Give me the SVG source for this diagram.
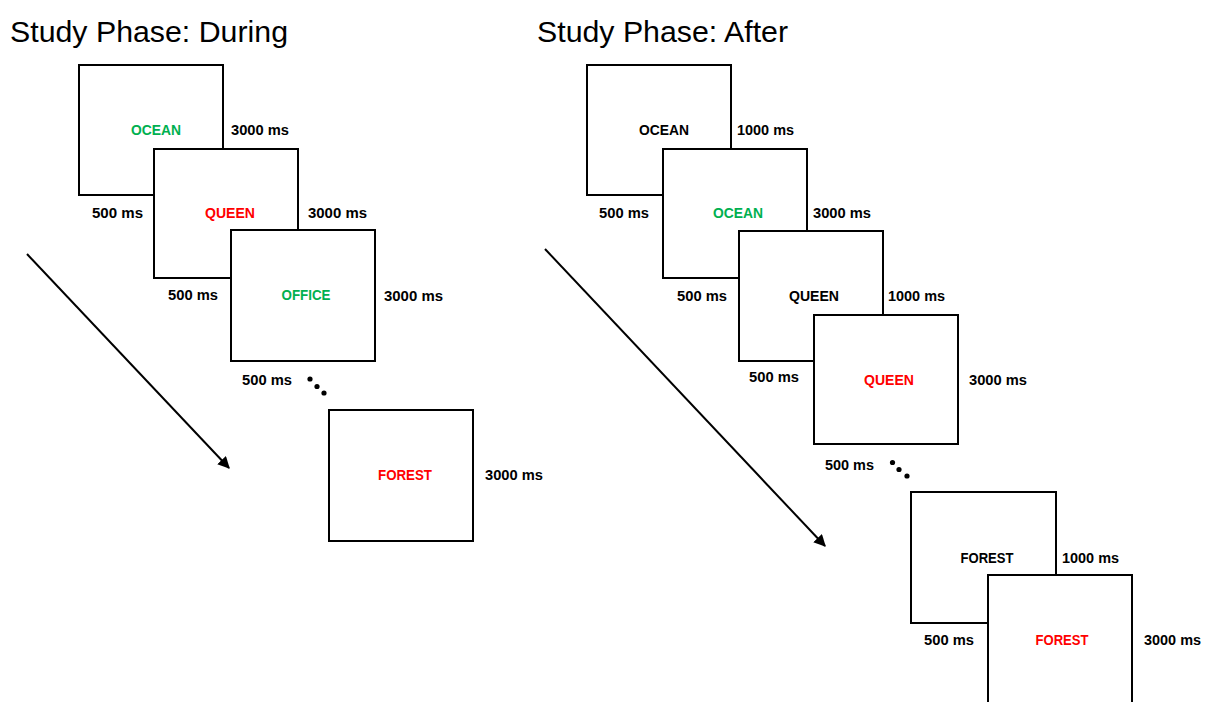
<svg xmlns="http://www.w3.org/2000/svg" width="1205" height="702" viewBox="0 0 1205 702">
<style>
.box{fill:#fff;stroke:#000;stroke-width:2}
.t{font-family:"Liberation Sans",Arial,sans-serif;font-size:15px;font-weight:bold;fill:#000}
.w{font-family:"Liberation Sans",Arial,sans-serif;font-size:15px;font-weight:bold;text-anchor:middle}
.g{fill:#00B050}
.r{fill:#FF0000}
.k{fill:#000}
.title{font-family:"Liberation Sans",Arial,sans-serif;font-size:29px;fill:#000}
.arr{stroke:#000;stroke-width:2;fill:none}
</style>
<defs>
<marker id="ah" viewBox="0 0 10 10" refX="9" refY="5" markerWidth="6" markerHeight="6" orient="auto" markerUnits="strokeWidth">
<path d="M0,0 L10,5 L0,10 z" fill="#000"/>
</marker>
</defs>

<text class="title" x="10" y="42" textLength="278" lengthAdjust="spacingAndGlyphs">Study Phase: During</text>
<text class="title" x="537" y="42" textLength="251" lengthAdjust="spacingAndGlyphs">Study Phase: After</text>

<g id="connectors">
<line class="arr" x1="27" y1="254" x2="229" y2="468" marker-end="url(#ah)"/>
<line class="arr" x1="545" y1="249" x2="825" y2="546" marker-end="url(#ah)"/>
</g>

<!-- Left panel -->
<g id="d-ocean">
<rect class="box" x="79" y="65" width="144" height="130"/>
<text class="w g" x="156" y="135" textLength="50" lengthAdjust="spacingAndGlyphs">OCEAN</text>
<text class="t" x="231" y="135" textLength="58" lengthAdjust="spacingAndGlyphs">3000 ms</text>
<text class="t" x="92" y="218" textLength="51" lengthAdjust="spacingAndGlyphs">500 ms</text>
</g>
<g id="d-queen">
<rect class="box" x="154" y="149" width="144" height="129"/>
<text class="w r" x="230" y="218" textLength="50" lengthAdjust="spacingAndGlyphs">QUEEN</text>
<text class="t" x="308" y="218" textLength="59" lengthAdjust="spacingAndGlyphs">3000 ms</text>
<text class="t" x="168" y="300" textLength="50" lengthAdjust="spacingAndGlyphs">500 ms</text>
</g>
<g id="d-office">
<rect class="box" x="231" y="230" width="144" height="131"/>
<text class="w g" x="306" y="300" textLength="49" lengthAdjust="spacingAndGlyphs">OFFICE</text>
<text class="t" x="384" y="301" textLength="59" lengthAdjust="spacingAndGlyphs">3000 ms</text>
<text class="t" x="242" y="385" textLength="50" lengthAdjust="spacingAndGlyphs">500 ms</text>
</g>
<g id="d-dots">
<circle cx="310" cy="379" r="2.6"/>
<circle cx="317" cy="386.5" r="2.6"/>
<circle cx="324" cy="393" r="2.6"/>
</g>
<g id="d-forest">
<rect class="box" x="329" y="410" width="144" height="131"/>
<text class="w r" x="405" y="480" textLength="54" lengthAdjust="spacingAndGlyphs">FOREST</text>
<text class="t" x="485" y="480" textLength="58" lengthAdjust="spacingAndGlyphs">3000 ms</text>
</g>

<!-- Right panel -->
<g id="a-ocean1">
<rect class="box" x="587" y="65" width="144" height="130"/>
<text class="w k" x="664" y="135" textLength="50" lengthAdjust="spacingAndGlyphs">OCEAN</text>
<text class="t" x="737" y="135" textLength="57" lengthAdjust="spacingAndGlyphs">1000 ms</text>
<text class="t" x="599" y="218" textLength="50" lengthAdjust="spacingAndGlyphs">500 ms</text>
</g>
<g id="a-ocean2">
<rect class="box" x="663" y="149" width="144" height="129"/>
<text class="w g" x="738" y="218" textLength="50" lengthAdjust="spacingAndGlyphs">OCEAN</text>
<text class="t" x="813" y="218" textLength="58" lengthAdjust="spacingAndGlyphs">3000 ms</text>
<text class="t" x="677" y="301" textLength="50" lengthAdjust="spacingAndGlyphs">500 ms</text>
</g>
<g id="a-queen1">
<rect class="box" x="739" y="231" width="144" height="130"/>
<text class="w k" x="814" y="301" textLength="50" lengthAdjust="spacingAndGlyphs">QUEEN</text>
<text class="t" x="888" y="301" textLength="57" lengthAdjust="spacingAndGlyphs">1000 ms</text>
<text class="t" x="749" y="382" textLength="50" lengthAdjust="spacingAndGlyphs">500 ms</text>
</g>
<g id="a-queen2">
<rect class="box" x="814" y="315" width="144" height="129"/>
<text class="w r" x="889" y="385" textLength="50" lengthAdjust="spacingAndGlyphs">QUEEN</text>
<text class="t" x="969" y="385" textLength="58" lengthAdjust="spacingAndGlyphs">3000 ms</text>
<text class="t" x="825" y="470" textLength="49" lengthAdjust="spacingAndGlyphs">500 ms</text>
</g>
<g id="a-dots">
<circle cx="892.5" cy="462.5" r="2.6"/>
<circle cx="899" cy="469.5" r="2.6"/>
<circle cx="907" cy="476" r="2.6"/>
</g>
<g id="a-forest1">
<rect class="box" x="911" y="492" width="145" height="131"/>
<text class="w k" x="987" y="563" textLength="53" lengthAdjust="spacingAndGlyphs">FOREST</text>
<text class="t" x="1062" y="563" textLength="57" lengthAdjust="spacingAndGlyphs">1000 ms</text>
<text class="t" x="924" y="645" textLength="50" lengthAdjust="spacingAndGlyphs">500 ms</text>
</g>
<g id="a-forest2">
<rect class="box" x="988" y="575" width="144" height="132"/>
<text class="w r" x="1062" y="645" textLength="53" lengthAdjust="spacingAndGlyphs">FOREST</text>
<text class="t" x="1144" y="645" textLength="57" lengthAdjust="spacingAndGlyphs">3000 ms</text>
</g>
</svg>
